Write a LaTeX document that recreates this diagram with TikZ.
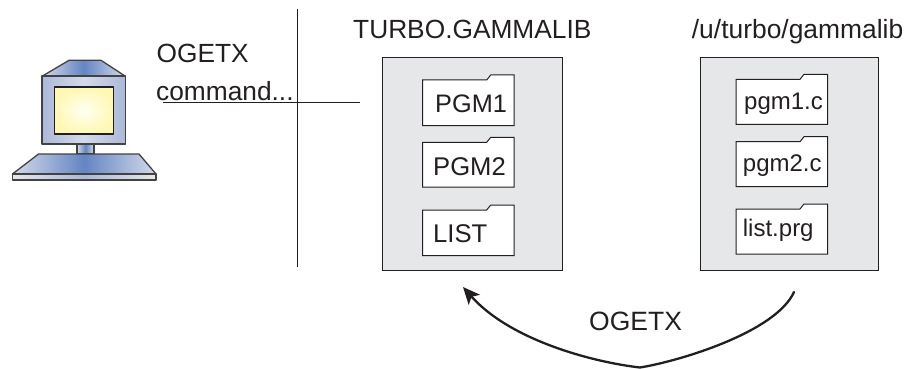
\documentclass[tikz,border=0pt]{standalone}
\usepackage{fontspec}
\setmainfont{Liberation Sans}
\usetikzlibrary{arrows.meta}
\definecolor{ink}{HTML}{231F20}
\definecolor{panel}{HTML}{E6E7E8}
\definecolor{pale}{HTML}{D4DAEA}
\definecolor{mid}{HTML}{ABB8D9}
\definecolor{deep}{HTML}{6485C3}
\definecolor{screenout}{HTML}{FFF8B4}
\definecolor{screenin}{HTML}{FFFFF2}
\tikzset{
  x=1pt,y=-1pt,
  lab/.style={anchor=base west,inner sep=0pt,text=ink,font=\fontsize{#1}{30}\selectfont},
  lab/.default=26.3,
  panelbox/.style={draw=ink,fill=panel,line width=1pt},
  folderbox/.style={draw=ink,fill=white,line width=1pt,line join=miter},
  rule/.style={draw=ink,line width=1pt},
  pc/.style={draw=ink!85,line width=1.3pt,line join=round},
  pcside/.style={pc,left color=pale,right color=pale,middle color=deep},
  pcglow/.style={pc,shading=radial,inner color=deep,outer color=pale},
}
\newcommand{\folder}[3]{% x, top y, bottom y
  \path[folderbox] (#1,#2+5) -- (#1+64,#2+5) -- (#1+68,#2) -- (#1+91.5,#2) -- (#1+91.5,#3) -- (#1,#3) -- cycle;
}
\begin{document}
\begin{tikzpicture}
\useasboundingbox (0,0) rectangle (911,369);
% computer
\path[pcside] (69,60.3) -- (101,60.3) -- (125,76) -- (42.5,76) -- cycle;
\path[pc,left color=mid,right color=mid,middle color=pale] (42,76) rectangle (125.5,144);
\path[pc,draw=ink,shading=radial,inner color=screenin,outer color=screenout] (54.5,87) rectangle (113.5,134);
\path[pcside] (77,144) rectangle (94,154);
\path[pcside] (38.5,154) -- (139,154) -- (156,174) -- (12.5,174) -- cycle;
\path[pc,left color=panel,right color=panel,middle color=mid] (12.5,174) rectangle (156,180);
% rules
\coordinate (vtop) at (297,9);
\coordinate (vbot) at (297,267);
\coordinate (hl) at (162.7,103);
\coordinate (hr) at (360,103);
\draw[rule] (vtop) -- (vbot);
\draw[rule] (hl) -- (hr);
\node[lab] (ogetxa) at (156.5,62.7) {OGETX};
\node[lab] (cmd) at (156,100.7) {command...};
% left library
\node[lab=26.3] (tlib) at (353,38.3) {TURBO.GAMMALIB};
\path[panelbox] (382.5,58) rectangle (562,270);
\folder{422.7}{75}{125.7}
\folder{422.7}{137.3}{187}
\folder{422.7}{205}{255.7}
\node[lab=25.3] (p1) at (435,112.7) {PGM1};
\node[lab=25.6] (p2) at (433,175) {PGM2};
\node[lab=25.6] (p3) at (433,242) {LIST};
% right library
\node[lab=26.4] (ulib) at (691.7,39) {/u/turbo/gammalib};
\path[panelbox] (700,58) rectangle (878,270);
\folder{736}{74.3}{124.3}
\folder{736}{136.7}{186.7}
\folder{736}{204}{254}
\node[lab=24] (q1) at (744,110) {pgm1.c};
\node[lab=24] (q2) at (742.7,171.7) {pgm2.c};
\node[lab=24] (q3) at (742.7,236.7) {list.prg};
% arrow
\coordinate (from) at (794,292);
\coordinate (low) at (640,367.5);
\coordinate (to) at (463,287);
\draw[ink,line width=2.3pt,line cap=round,-{Stealth[length=17pt,width=15pt,inset=4pt]}]
  (from) .. controls (776,332) and (680,361) .. (low) .. controls (592,362) and (510,340) .. (to);
\node[lab=26.5] (ogetxb) at (589,330) {OGETX};
\end{tikzpicture}
\end{document}
